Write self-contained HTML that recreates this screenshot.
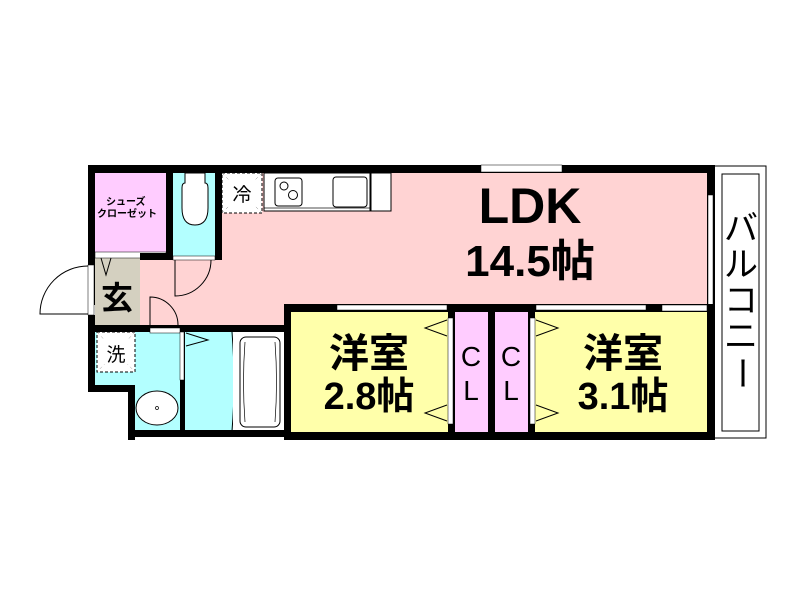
<!DOCTYPE html>
<html><head><meta charset="utf-8"><style>
html,body{margin:0;padding:0;background:#fff;}
svg{display:block;}
text{font-family:"Liberation Sans","Noto Sans CJK JP",sans-serif;fill:#000;}
.b{font-weight:bold;}
</style></head><body>
<svg width="800" height="600" viewBox="0 0 800 600" xmlns="http://www.w3.org/2000/svg">
<rect x="714" y="166" width="52" height="272" fill="#fff" stroke="#000" stroke-width="1"/>
<rect x="722" y="174" width="37" height="257" fill="none" stroke="#000" stroke-width="1"/>
<rect x="88" y="165" width="627" height="140" fill="#000"/>
<rect x="220" y="173" width="487" height="131" fill="#ffd3d3"/>
<rect x="140" y="256" width="150" height="69" fill="#ffd3d3"/>
<rect x="95" y="173" width="71" height="80" fill="#ffccff"/>
<rect x="173" y="173" width="42" height="83" fill="#b3ffff"/>
<path d="M185 173 h20 v10 q3 0 3 5 v20 q0 17 -13 17 q-13 0 -13 -17 v-20 q0 -5 3 -5z" fill="#fff" stroke="#000" stroke-width="1"/>
<rect x="95" y="258" width="45" height="67" fill="#d4d0c0"/>
<rect x="95" y="252" width="71" height="6" fill="#fff" stroke="#000" stroke-width="0.5"/>
<rect x="140" y="253" width="26" height="7" fill="#000"/>
<rect x="173" y="256" width="42" height="4" fill="#fff" stroke="#000" stroke-width="0.5"/>
<path d="M101 258 L106 275 L111 258" fill="none" stroke="#000" stroke-width="1"/>
<text x="117" y="309" font-size="32" text-anchor="middle" class="b">玄</text>
<path d="M175 260 V296 A36 36 0 0 0 211 260" fill="none" stroke="#000" stroke-width="1"/>
<rect x="88" y="265" width="6" height="50" fill="#fff" stroke="#000" stroke-width="0.5"/>
<path d="M88 266 A48 48 0 0 0 40 314 H88" fill="none" stroke="#000" stroke-width="1"/>
<rect x="88" y="165" width="7" height="92" fill="#000"/>
<rect x="88" y="315" width="7" height="77" fill="#000"/>
<rect x="88" y="325" width="202" height="7" fill="#000"/>
<rect x="88" y="385" width="47" height="7" fill="#000"/>
<rect x="128" y="385" width="7" height="55" fill="#000"/>
<rect x="95" y="332" width="85" height="53" fill="#b3ffff"/>
<rect x="135" y="385" width="45" height="46" fill="#b3ffff"/>
<rect x="150" y="328" width="30" height="5" fill="#fff" stroke="#000" stroke-width="0.5"/>
<path d="M150 325 V297 A28 28 0 0 1 178 325" fill="none" stroke="#000" stroke-width="1"/>
<rect x="97" y="332" width="38" height="40" fill="#fff" stroke="#000" stroke-width="1" stroke-dasharray="3,2"/>
<path d="M97 332 L135 372 M135 332 L97 372" stroke="#999" stroke-width="0.5" stroke-dasharray="3,3"/>
<rect x="103" y="340" width="26" height="24" fill="#fff"/>
<text x="116" y="361" font-size="19" text-anchor="middle">洗</text>
<ellipse cx="157" cy="408" rx="21" ry="17" fill="#fff" stroke="#000" stroke-width="1"/>
<circle cx="157" cy="408" r="1.5" fill="none" stroke="#000" stroke-width="0.7"/>
<rect x="180" y="332" width="5" height="100" fill="#000"/>
<rect x="180" y="332" width="4" height="48" fill="#fff" stroke="#000" stroke-width="0.5"/>
<rect x="185" y="332" width="48" height="99" fill="#b3ffff"/>
<path d="M186 333 L208 340 L186 346" fill="none" stroke="#000" stroke-width="1"/>
<path d="M232 332 q4 50 0 99" fill="none" stroke="#000" stroke-width="1"/>
<rect x="233" y="332" width="51" height="99" fill="#fff"/>
<rect x="240" y="337" width="40" height="90" rx="6" fill="#fff" stroke="#000" stroke-width="1"/>
<path d="M245 342 q-3 40 0 80 M275 342 q3 40 0 80" fill="none" stroke="#000" stroke-width="0.7"/>
<rect x="128" y="430" width="160" height="7" fill="#000"/>
<rect x="222" y="173" width="40" height="40" fill="#fff" stroke="#000" stroke-width="1" stroke-dasharray="3,2"/>
<path d="M222 173 L262 213 M262 173 L222 213" stroke="#888" stroke-width="0.5" stroke-dasharray="3,3"/>
<rect x="229" y="179" width="26" height="28" fill="#fff"/>
<text x="242" y="201" font-size="19" text-anchor="middle">冷</text>
<rect x="264" y="173" width="106" height="38" fill="#fff" stroke="#000" stroke-width="1"/>
<rect x="264" y="173" width="106" height="35" fill="none" stroke="#000" stroke-width="0.7"/>
<rect x="275" y="178" width="27" height="28" rx="3" fill="#fff" stroke="#000" stroke-width="1"/>
<circle cx="284" cy="186" r="4" fill="none" stroke="#000" stroke-width="1"/>
<circle cx="293" cy="195" r="4.5" fill="none" stroke="#000" stroke-width="1"/>
<rect x="333" y="177" width="34" height="30" rx="3" fill="#fff" stroke="#000" stroke-width="1"/>
<rect x="371" y="173" width="20" height="38" fill="#fff" stroke="#000" stroke-width="1"/>
<rect x="215" y="165" width="7" height="95" fill="#000"/>
<rect x="166" y="165" width="7" height="95" fill="#000"/>
<rect x="707" y="165" width="8" height="275" fill="#000"/>
<rect x="481" y="165" width="81" height="7" fill="#fff" stroke="#000" stroke-width="0.5"/>
<rect x="708" y="195" width="5" height="110" fill="#fff" stroke="#000" stroke-width="0.5"/>
<rect x="284" y="304" width="431" height="8" fill="#000"/>
<rect x="291" y="312" width="157" height="120" fill="#ffffaa"/>
<rect x="535" y="312" width="172" height="120" fill="#ffffaa"/>
<rect x="455" y="312" width="33" height="120" fill="#ffccff"/>
<rect x="495" y="312" width="33" height="120" fill="#ffccff"/>
<rect x="284" y="304" width="7" height="136" fill="#000"/>
<rect x="448" y="304" width="7" height="136" fill="#000"/>
<rect x="488" y="304" width="7" height="136" fill="#000"/>
<rect x="528" y="304" width="7" height="136" fill="#000"/>
<rect x="284" y="432" width="431" height="8" fill="#000"/>
<rect x="337" y="305" width="110" height="5" fill="#fff" stroke="#000" stroke-width="0.5"/>
<rect x="536" y="305" width="110" height="5" fill="#fff" stroke="#000" stroke-width="0.5"/>
<rect x="662" y="305" width="45" height="6" fill="#fff" stroke="#000" stroke-width="0.5"/>
<rect x="448" y="318" width="5" height="106" fill="#fff" stroke="#000" stroke-width="0.5"/>
<rect x="530" y="318" width="5" height="106" fill="#fff" stroke="#000" stroke-width="0.5"/>
<path d="M447 320 L425 328 L447 336 M447 405 L425 413 L447 421" fill="none" stroke="#000" stroke-width="1"/>
<path d="M536 320 L558 328 L536 336 M536 405 L558 413 L536 421" fill="none" stroke="#000" stroke-width="1"/>
<text x="106" y="205" font-size="10" font-weight="bold">シューズ</text>
<text x="97" y="217" font-size="10" font-weight="bold">クローゼット</text>
<text x="530" y="223" font-size="50" text-anchor="middle" class="b">LDK</text>
<text x="530" y="276" font-size="44" text-anchor="middle" class="b">14.5帖</text>
<text x="369" y="367" font-size="40" text-anchor="middle" class="b">洋室</text>
<text x="369" y="409" font-size="38" text-anchor="middle" class="b">2.8帖</text>
<text x="623" y="367" font-size="40" text-anchor="middle" class="b">洋室</text>
<text x="623" y="409" font-size="38" text-anchor="middle" class="b">3.1帖</text>
<text x="471" y="366" font-size="28" text-anchor="middle">C</text>
<text x="471" y="400" font-size="28" text-anchor="middle">L</text>
<text x="511" y="366" font-size="28" text-anchor="middle">C</text>
<text x="511" y="400" font-size="28" text-anchor="middle">L</text>
<text x="741" y="240" font-size="34" text-anchor="middle">バ</text>
<text x="741" y="276" font-size="34" text-anchor="middle">ル</text>
<text x="741" y="312" font-size="34" text-anchor="middle">コ</text>
<text x="741" y="348" font-size="34" text-anchor="middle">ニ</text>
<text x="741" y="384" font-size="34" text-anchor="middle" transform="rotate(90 741 373)">ー</text>
</svg>
</body></html>
